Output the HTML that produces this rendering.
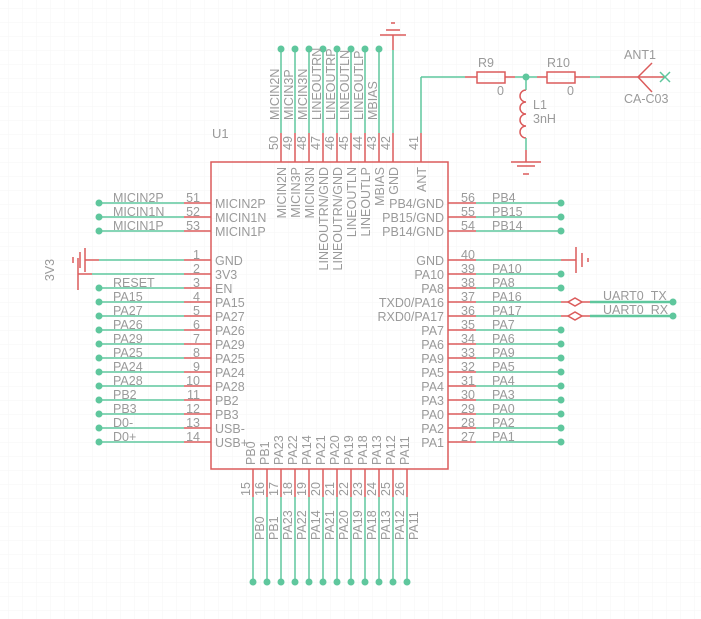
<!DOCTYPE html>
<html><head><meta charset="utf-8"><style>
html,body{margin:0;padding:0;background:#fff}
svg{display:block}
text{font-family:"Liberation Sans",sans-serif;font-size:12.5px;fill:#9a9a9a}
</style></head><body>
<svg width="701" height="619" xmlns="http://www.w3.org/2000/svg">
<defs><pattern id="g" x="8" y="8" width="14" height="14" patternUnits="userSpaceOnUse"><path d="M0 0H14M0 0V14" stroke="#f6f6f6" stroke-width="1" fill="none"/></pattern></defs>
<rect width="701" height="619" fill="url(#g)"/>
<rect x="211" y="162" width="237" height="307" stroke="#db5b5b" stroke-width="1.5" fill="none"/>
<text x="212" y="138" style="font-size:13px">U1</text>
<text x="603" y="300">UART0_TX</text><text x="603" y="314">UART0_RX</text>
<g stroke="#db5b5b" stroke-width="1.5">
<line x1="393" y1="35" x2="393" y2="50"/>
<line x1="380" y1="35" x2="406" y2="35"/>
<line x1="386" y1="30" x2="400" y2="30"/>
<line x1="391" y1="23" x2="395" y2="23"/>
<line x1="85" y1="248" x2="85" y2="272"/>
<line x1="80" y1="252" x2="80" y2="268"/>
<line x1="73" y1="257" x2="73" y2="263"/>
<line x1="85" y1="260" x2="99" y2="260"/>
<line x1="78" y1="258" x2="78" y2="290"/>
<line x1="78" y1="274" x2="92" y2="274"/>
<line x1="576" y1="247" x2="576" y2="273"/>
<line x1="582" y1="253" x2="582" y2="267"/>
<line x1="588" y1="258" x2="588" y2="262"/>
<line x1="561" y1="260" x2="576" y2="260"/>
<line x1="465" y1="77" x2="477" y2="77"/>
<rect x="477" y="72" width="28" height="11" fill="none"/>
<line x1="505" y1="77" x2="515" y2="77"/>
<line x1="537" y1="77" x2="547" y2="77"/>
<rect x="547" y="72" width="28" height="11" fill="none"/>
<line x1="575" y1="77" x2="590" y2="77"/>
<line x1="600" y1="77" x2="665" y2="77"/>
<line x1="638" y1="77" x2="652" y2="63"/>
<line x1="638" y1="77" x2="652" y2="92"/>
<path d="M526 90 a6 6 0 1 0 0 12 a6 6 0 1 0 0 12 a6 6 0 1 0 0 12 a6 6 0 1 0 0 12" fill="none"/>
<line x1="526" y1="150" x2="526" y2="162"/>
<line x1="511" y1="162" x2="541" y2="162"/>
<line x1="517" y1="166" x2="535" y2="166"/>
<line x1="523" y1="174" x2="529" y2="174"/>
<line x1="561" y1="302" x2="590" y2="302"/>
<line x1="561" y1="316" x2="590" y2="316"/>
<path d="M568 302 L575 298 L582 302 L575 306 Z" fill="#fff"/>
<path d="M568 316 L575 312 L582 316 L575 320 Z" fill="#fff"/>
</g>
<g stroke="#5fc79d" stroke-width="1.5">
<line x1="421" y1="133" x2="421" y2="77"/>
<line x1="421" y1="77" x2="465" y2="77"/>
<line x1="515" y1="77" x2="537" y2="77"/>
<line x1="590" y1="77" x2="600" y2="77"/>
<line x1="526" y1="77" x2="526" y2="90"/>
<line x1="526" y1="138" x2="526" y2="150"/>
<line x1="590" y1="302" x2="673" y2="302" stroke-width="2.5"/>
<line x1="590" y1="316" x2="673" y2="316" stroke-width="2.5"/>
<line x1="99" y1="260" x2="184" y2="260"/>
<line x1="92" y1="274" x2="184" y2="274"/>
<line x1="393" y1="133" x2="393" y2="50"/>
<line x1="660" y1="72" x2="670" y2="82"/><line x1="660" y1="82" x2="670" y2="72"/>
</g>
<g fill="#5fc79d"><circle cx="526" cy="77" r="3.5"/><circle cx="673" cy="302" r="3.5"/><circle cx="673" cy="316" r="3.5"/></g>
<text x="478" y="67">R9</text><text x="497" y="95">0</text>
<text x="547" y="67">R10</text><text x="567" y="95">0</text>
<text x="533" y="109">L1</text><text x="533" y="123">3nH</text>
<text x="624" y="59">ANT1</text><text x="624" y="103">CA-C03</text>
<text transform="translate(54,270) rotate(-90)" text-anchor="middle">3V3</text>
<g id="gen"></g>
<script>
var S='http://www.w3.org/2000/svg',G=document.getElementById('gen');
var R='#db5b5b',N='#5fc79d';
function el(t,a,txt){var e=document.createElementNS(S,t);for(var k in a)e.setAttribute(k,a[k]);if(txt!=null)e.textContent=txt;G.appendChild(e);return e;}
function ln(x1,y1,x2,y2,c){el('line',{x1:x1,y1:y1,x2:x2,y2:y2,stroke:c,'stroke-width':1.5});}
function dot(x,y){el('circle',{cx:x,cy:y,r:3.5,fill:N});}
function tx(x,y,s,o){var a={x:x,y:y};for(var k in o)a[k]=o[k];el('text',a,s);}
function rt(x,y,s,anc){el('text',{transform:'translate('+x+','+y+') rotate(-90)','text-anchor':anc||'start'},s);}
var L=[[203,51,'MICIN2P','MICIN2P'],[217,52,'MICIN1N','MICIN1N'],[231,53,'MICIN1P','MICIN1P'],
[260,1,'GND',null],[274,2,'3V3',null],[288,3,'EN','RESET'],[302,4,'PA15','PA15'],[316,5,'PA27','PA27'],[330,6,'PA26','PA26'],
[344,7,'PA29','PA29'],[358,8,'PA25','PA25'],[372,9,'PA24','PA24'],[386,10,'PA28','PA28'],[400,11,'PB2','PB2'],[414,12,'PB3','PB3'],
[428,13,'USB-','D0-'],[442,14,'USB+','D0+']];
L.forEach(function(p){var y=p[0];ln(184,y,211,y,R);if(p[3]!==null){ln(99,y,184,y,N);dot(99,y);tx(113,y-1,p[3]);}
tx(200,y-1,p[1],{'text-anchor':'end'});tx(215,y+5,p[2]);});
var Rt=[[203,56,'PB4/GND','PB4'],[217,55,'PB15/GND','PB15'],[231,54,'PB14/GND','PB14'],[260,40,'GND',null],[274,39,'PA10','PA10'],
[288,38,'PA8','PA8'],[302,37,'TXD0/PA16','PA16'],[316,36,'RXD0/PA17','PA17'],[330,35,'PA7','PA7'],[344,34,'PA6','PA6'],[358,33,'PA9','PA9'],
[372,32,'PA5','PA5'],[386,31,'PA4','PA4'],[400,30,'PA3','PA3'],[414,29,'PA0','PA0'],[428,28,'PA2','PA2'],[442,27,'PA1','PA1']];
Rt.forEach(function(p){var y=p[0];ln(448,y,476,y,R);ln(476,y,561,y,N);if(p[3]!==null){if(y!=302&&y!=316)dot(561,y);tx(492,y-1,p[3]);}
tx(461,y-1,p[1]);tx(444,y+5,p[2],{'text-anchor':'end'});});
var T=[[50,'MICIN2N','MICIN2N'],[49,'MICIN3P','MICIN3P'],[48,'MICIN3N','MICIN3N'],[47,'LINEOUTRN/GND','LINEOUTRN'],[46,'LINEOUTRN/GND','LINEOUTRP'],
[45,'LINEOUTLN','LINEOUTLN'],[44,'LINEOUTLP','LINEOUTLP'],[43,'MBIAS','MBIAS'],[42,'GND',null]];
T.forEach(function(p,i){var x=281+14*i;ln(x,133,x,162,R);if(p[2]!==null){ln(x,49,x,133,N);dot(x,49);rt(x-2,120,p[2]);}
rt(x-3,150,p[0]);rt(x+5,167,p[1],'end');});
ln(421,133,421,162,R);rt(418,150,'41');rt(426,167,'ANT','end');
var B=['PB0','PB1','PA23','PA22','PA14','PA21','PA20','PA19','PA18','PA13','PA12','PA11'];
B.forEach(function(s,i){var x=253+14*i;ln(x,469,x,497,R);ln(x,497,x,582,N);dot(x,582);rt(x-3,496,String(15+i));rt(x+11,540,s);rt(x+2,465,s);});
</script>
</svg>
</body></html>
